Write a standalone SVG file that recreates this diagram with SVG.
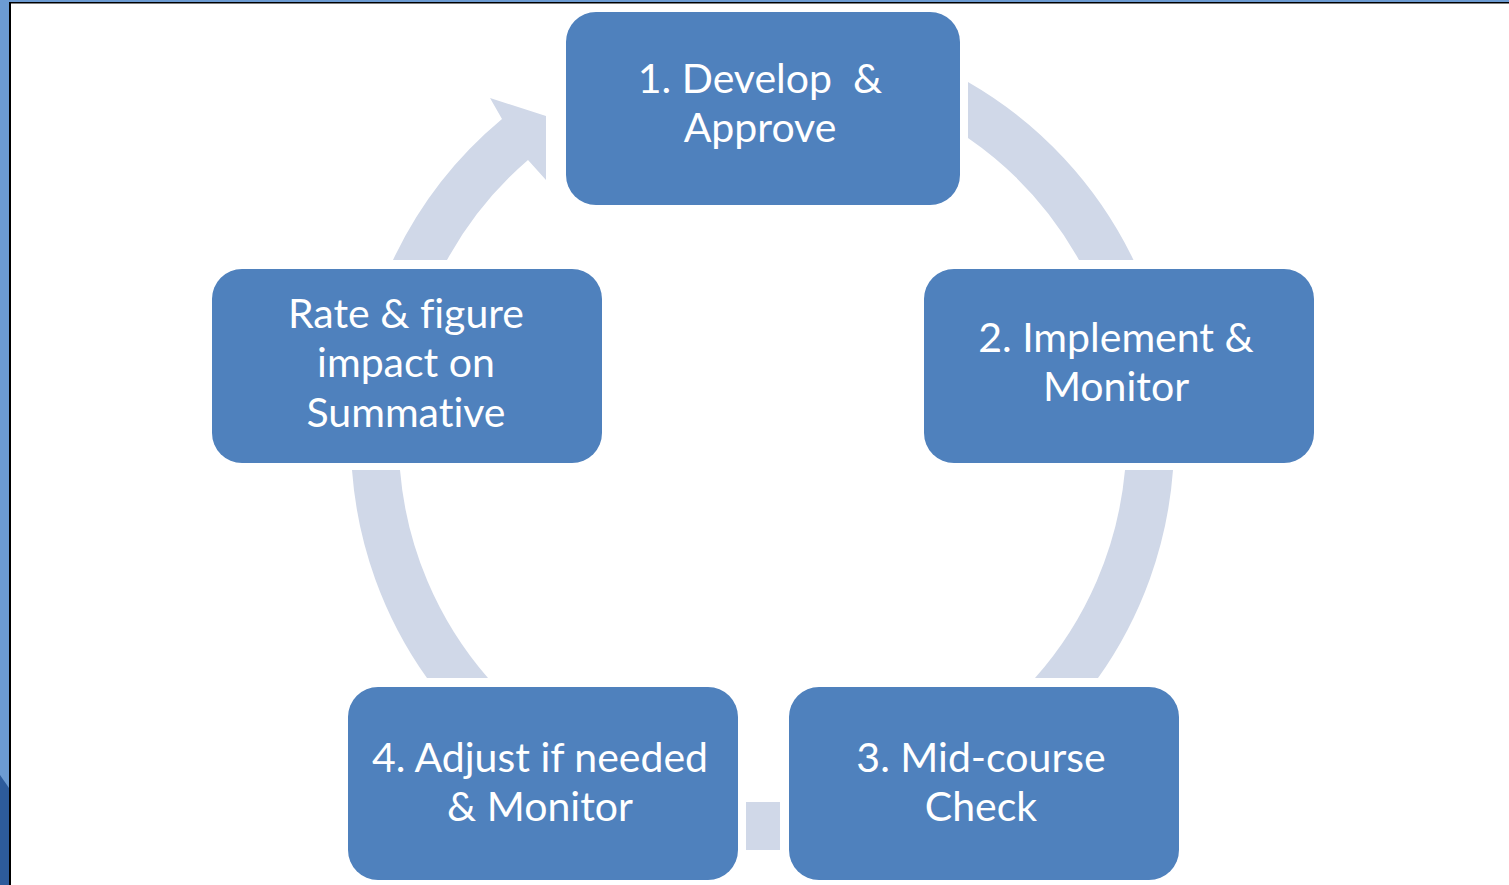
<svg xmlns="http://www.w3.org/2000/svg" width="1509" height="885" viewBox="0 0 1509 885">
<style>
.box{fill:#4f81bd;}
.arc{fill:#d0d8e8;}
.t{font-family:"Lato","Liberation Sans",sans-serif;font-size:41px;fill:#ffffff;text-anchor:middle;font-variant-ligatures:none;}
</style>
<rect x="0" y="0" width="1509" height="885" fill="#ffffff"/>
<g id="frame">
<rect x="0" y="0" width="9" height="885" fill="#6c9bd2"/>
<polygon points="0,775 9,788 9,885 0,885" fill="#2d5b9b"/>
<rect x="0" y="0" width="1509" height="2" fill="#6c9bd2"/>
<rect x="9" y="2" width="1500" height="1.5" fill="#000000"/>
<rect x="9" y="2" width="2" height="883" fill="#000000"/>
</g>
<g id="connectors">
<path class="arc" d="M968,82 A411,411 0 0 1 1133.5,260 L1079,260 A363,363 0 0 0 968,138 Z"/>
<path class="arc" d="M1173,470 A411,411 0 0 1 1098,678 L1035,678 A363,363 0 0 0 1125,470 Z"/>
<rect class="arc" x="746" y="802" width="34" height="48"/>
<path class="arc" d="M488,678 A363,363 0 0 1 400,470 L352,470 A411,411 0 0 0 427,678 Z"/>
<path class="arc" d="M393,260 A411,411 0 0 1 502,119 L490,98 L546,116 L546,180 L528,160 A363,363 0 0 0 447,260 Z"/>
</g>
<g id="node1">
<rect class="box" x="566" y="12" width="394" height="193" rx="30"/>
<text class="t" x="760" y="93">1. Develop&#160; &amp;</text>
<text class="t" x="760" y="142">Approve</text>
</g>
<g id="node2">
<rect class="box" x="924" y="269" width="390" height="194" rx="30"/>
<text class="t" x="1116" y="352">2. Implement &amp;</text>
<text class="t" x="1116" y="401">Monitor</text>
</g>
<g id="node3">
<rect class="box" x="789" y="687" width="390" height="193" rx="30"/>
<text class="t" x="981" y="772">3. Mid-course</text>
<text class="t" x="981" y="821">Check</text>
</g>
<g id="node4">
<rect class="box" x="348" y="687" width="390" height="193" rx="30"/>
<text class="t" x="540" y="772">4. Adjust if needed</text>
<text class="t" x="540" y="821">&amp; Monitor</text>
</g>
<g id="node5">
<rect class="box" x="212" y="269" width="390" height="194" rx="30"/>
<text class="t" x="406" y="328">Rate &amp; figure</text>
<text class="t" x="406" y="377">impact on</text>
<text class="t" x="406" y="427">Summative</text>
</g>
</svg>
